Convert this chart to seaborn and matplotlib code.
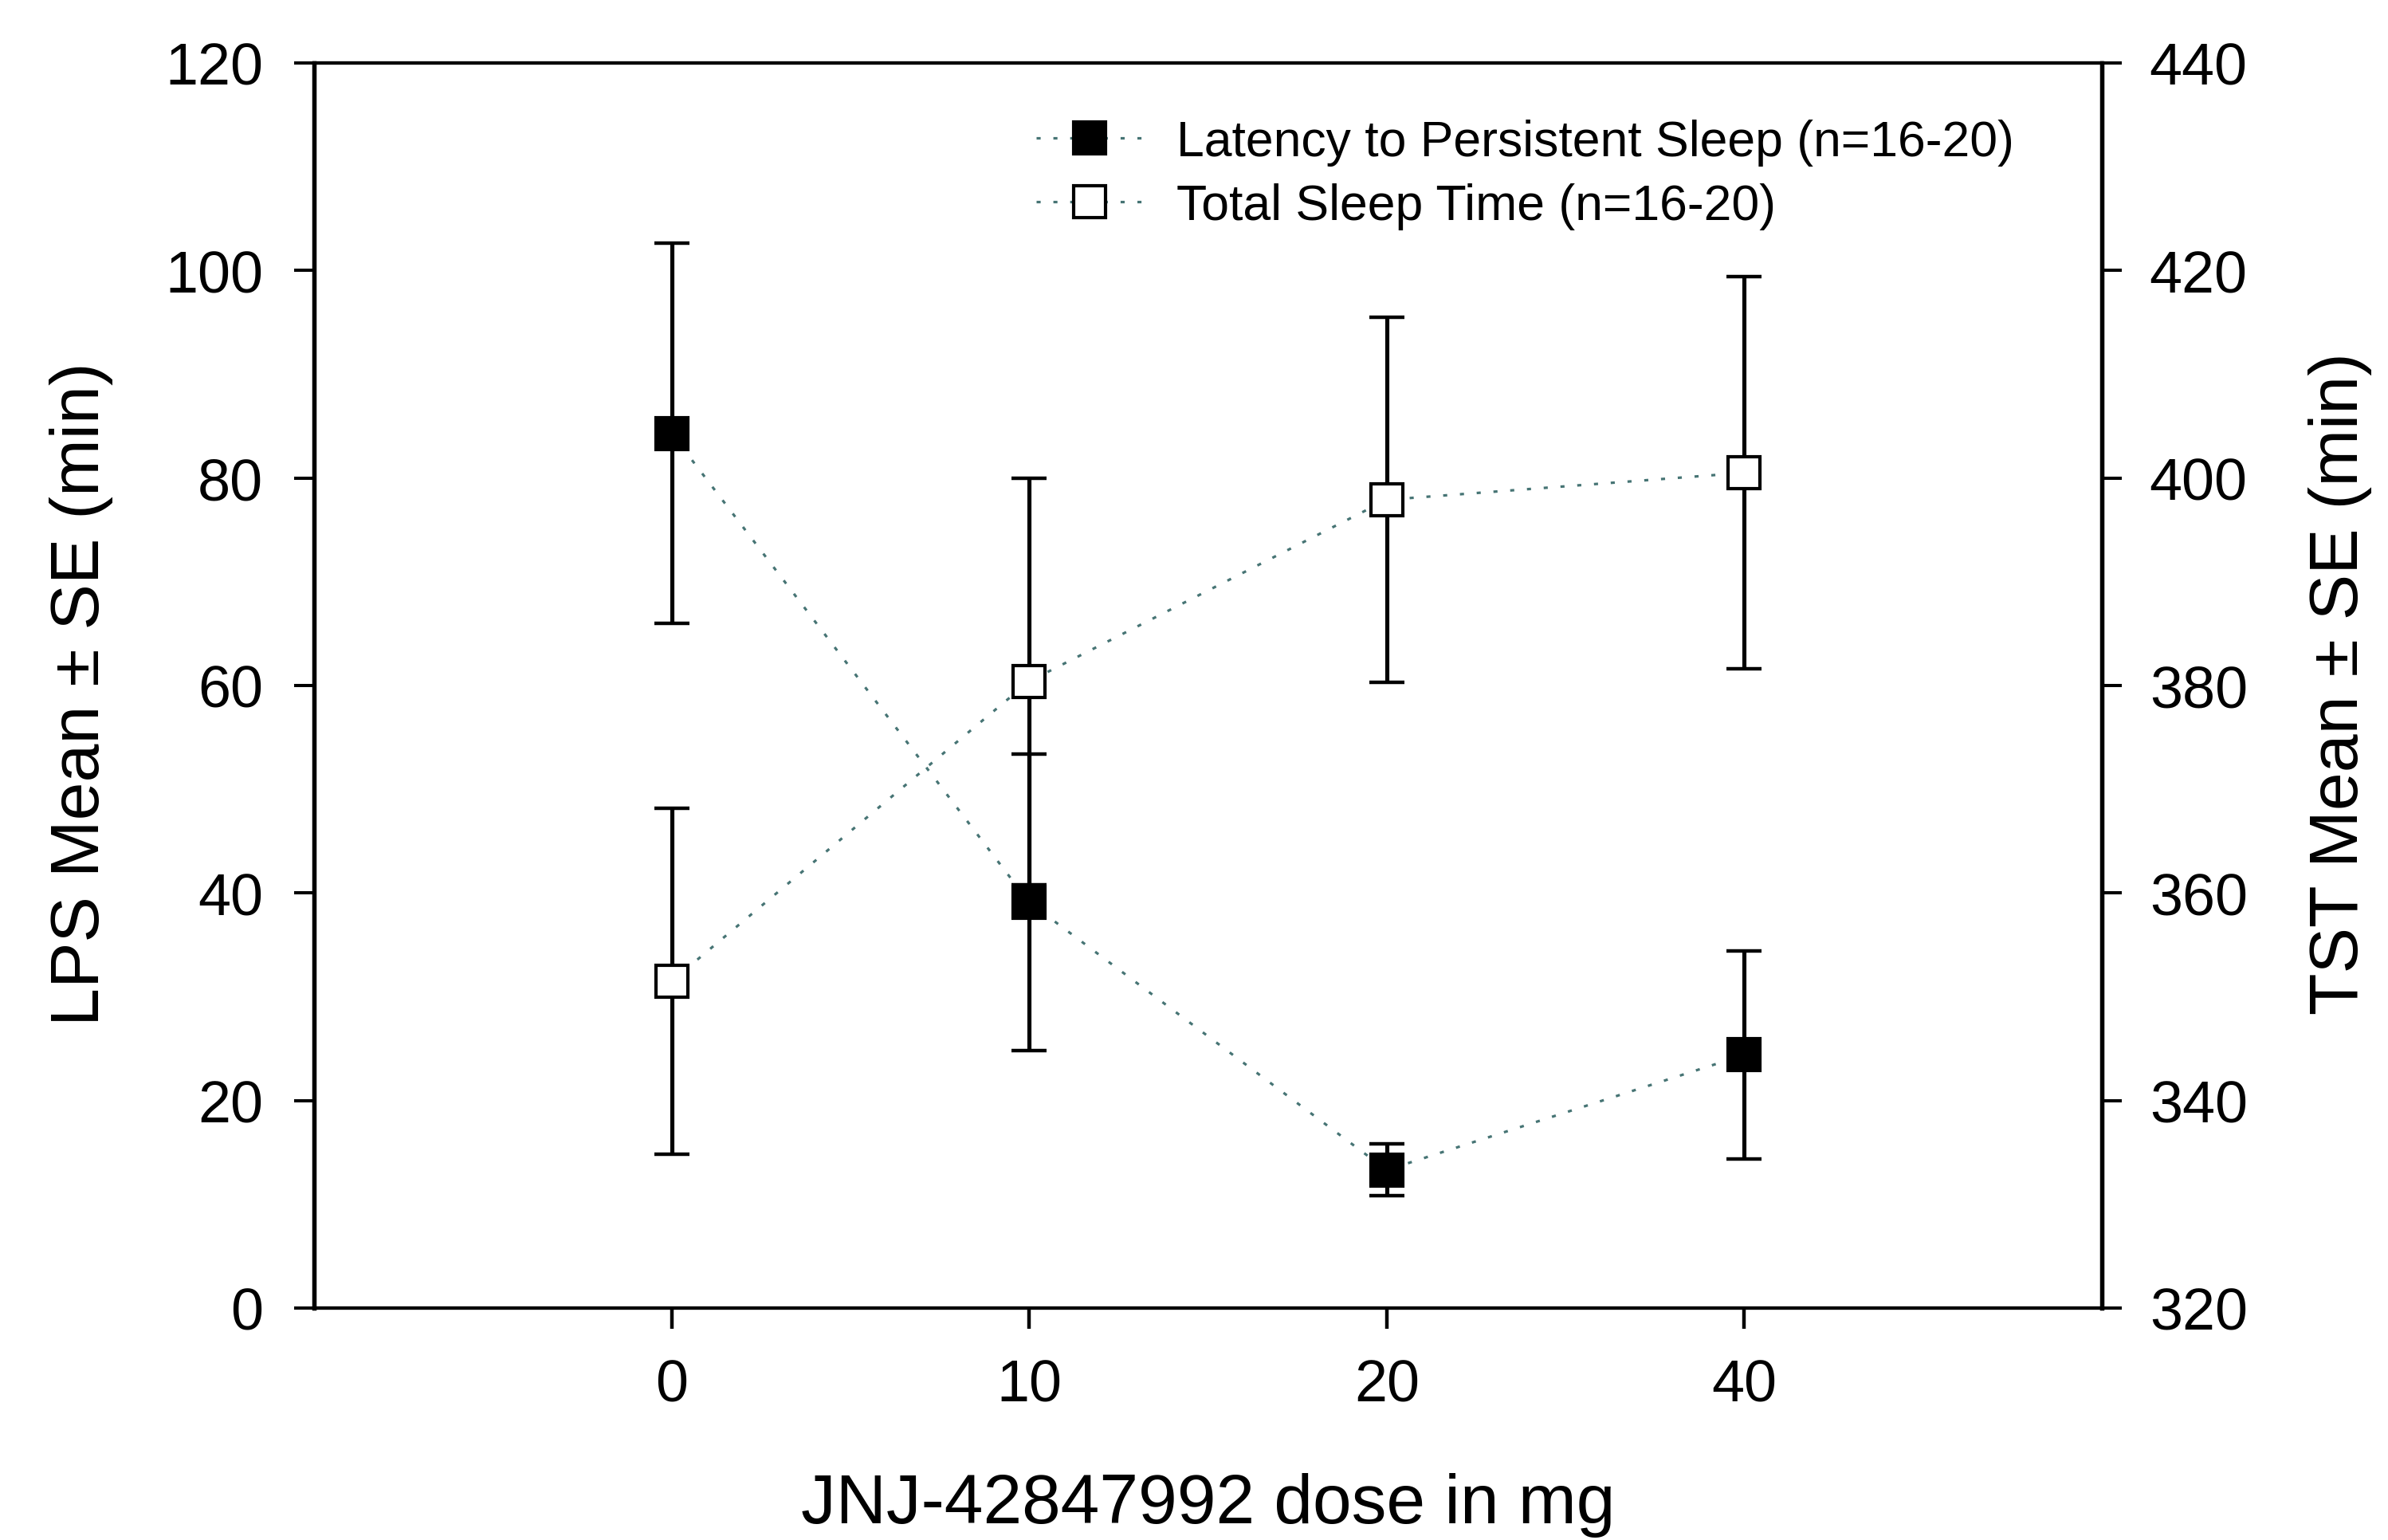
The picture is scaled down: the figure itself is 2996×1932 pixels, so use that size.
import numpy as np
import pandas as pd
import matplotlib
matplotlib.use("Agg")
import matplotlib.pyplot as plt
from matplotlib.lines import Line2D
import seaborn as sns

# ---- data ----
doses = ["0", "10", "20", "40"]
lps_mean = [84.3, 39.1, 13.3, 24.4]
lps_se = [18.3, 14.3, 2.5, 10.0]
tst_mean = [351.5, 380.4, 397.9, 400.5]
tst_se = [16.7, 19.6, 17.6, 18.9]
lps_label = "Latency to Persistent Sleep (n=16-20)"
tst_label = "Total Sleep Time (n=16-20)"
x_title = "JNJ-42847992 dose in mg"
left_title = "LPS Mean \u00b1 SE (min)"
right_title = "TST Mean \u00b1 SE (min)"

sns.set_theme(style="ticks", rc={"text.color": "black", "axes.labelcolor": "black",
                                 "xtick.color": "black", "ytick.color": "black",
                                 "axes.edgecolor": "black"})
plt.rcParams["font.family"] = ["Liberation Sans", "DejaVu Sans"]

W, H = 2996, 1933
fig = plt.figure(figsize=(W / 100, H / 100), dpi=100)
L, R, T, B = 394, 2637, 80, 1642
ax = fig.add_axes([L / W, 1 - B / H, (R - L) / W, (B - T) / H])
ax2 = ax.twinx()

pos = np.arange(len(doses))
df = pd.DataFrame({"pos": pos, "lps": lps_mean, "tst": tst_mean})

line_color = "#467474"
dots = (0, (1.6, 5))
ms, mew = 29.5, 3.0
elw, cth, cap = 3.7, 3.2, 16.0

# LPS on left axis
ax.errorbar(pos, lps_mean, yerr=lps_se, fmt="none", ecolor="black",
            elinewidth=elw, capsize=cap, capthick=cth, zorder=2)
sns.lineplot(data=df, x="pos", y="lps", ax=ax, color=line_color, linestyle=dots,
             linewidth=2.3, marker="s", markersize=ms, markerfacecolor="black",
             markeredgecolor="black", markeredgewidth=mew, zorder=3, legend=False)

# TST on right axis
ax2.errorbar(pos, tst_mean, yerr=tst_se, fmt="none", ecolor="black",
             elinewidth=elw, capsize=cap, capthick=cth, zorder=2)
sns.lineplot(data=df, x="pos", y="tst", ax=ax2, color=line_color, linestyle=dots,
             linewidth=2.3, marker="s", markersize=ms, markerfacecolor="white",
             markeredgecolor="black", markeredgewidth=mew, zorder=3, legend=False)

ax.set_xlim(-1, 4)
ax.set_ylim(0, 120)
ax2.set_ylim(320, 440)
ax.set_xticks(pos)
ax.set_xticklabels(doses)
ax.set_yticks(np.arange(0, 121, 20))
ax2.set_yticks(np.arange(320, 441, 20))

ax.tick_params(axis="y", direction="out", length=18, width=2.9, pad=28, labelsize=53)
ax.tick_params(axis="x", direction="out", length=19, width=3.2, pad=26, labelsize=53)
ax2.tick_params(axis="y", direction="out", length=18, width=2.9, pad=25, labelsize=53)

for a in (ax, ax2):
    for side, sp in a.spines.items():
        sp.set_visible(True)
        sp.set_color("black")
        sp.set_linewidth(3.8 if side in ("left", "right") else 3.0)

ax.set_xlabel(x_title, fontsize=63, va="baseline")
ax.xaxis.set_label_coords(0.5, -(1911 - B) / (B - T))
ax.set_ylabel(left_title, fontsize=62, va="center")
ax.yaxis.set_label_coords(-(L - 102) / (R - L), 0.494)
ax2.set_ylabel(right_title, fontsize=62, va="center")
ax2.yaxis.set_label_coords((2936 - L) / (R - L), 0.502)

handles = [
    Line2D([], [], color=line_color, linestyle=dots, linewidth=2.3, marker="s",
           markersize=ms, markerfacecolor="black", markeredgecolor="black",
           markeredgewidth=mew),
    Line2D([], [], color=line_color, linestyle=dots, linewidth=2.3, marker="s",
           markersize=ms, markerfacecolor="white", markeredgecolor="black",
           markeredgewidth=mew),
]
leg = ax2.legend(handles, [lps_label, tst_label], loc="upper left",
                 bbox_to_anchor=(1300 / W, 1 - 150 / H), bbox_transform=fig.transFigure,
                 frameon=False, fontsize=45, handlelength=2.15, handletextpad=0.66,
                 labelspacing=0.34, borderpad=0, borderaxespad=0, numpoints=1)

fig.savefig("out.png", dpi=100, facecolor="white")
